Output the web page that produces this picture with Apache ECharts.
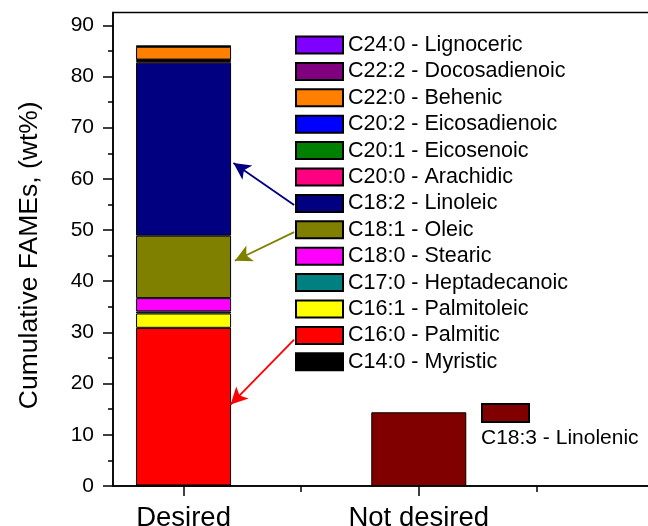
<!DOCTYPE html>
<html>
<head>
<meta charset="utf-8">
<script src="https://cdn.jsdelivr.net/npm/echarts@6/dist/echarts.min.js"></script>
<style>
html,body{margin:0;padding:0;background:#fff;}
#chart{width:648px;height:526px;}
</style>
</head>
<body>
<div id="chart"></div>
<script>
// ---- data ----
const categories = ['Desired', 'Not desired'];
const categoryPositions = [1, 2];
// stacked FAMEs (bottom to top) for the "Desired" bar
const fameNames = [
  'C14:0 - Myristic', 'C16:0 - Palmitic', 'C16:1 - Palmitoleic', 'C17:0 - Heptadecanoic',
  'C18:0 - Stearic', 'C18:1 - Oleic', 'C18:2 - Linoleic', 'C20:0 - Arachidic',
  'C20:1 - Eicosenoic', 'C20:2 - Eicosadienoic', 'C22:0 - Behenic', 'C22:2 - Docosadienoic',
  'C24:0 - Lignoceric'
];
const desiredValues = [0.1, 30.8, 2.8, 0.4, 2.6, 12.2, 33.8, 0.3, 0.2, 0.1, 2.5, 0.1, 0.1];
const notDesiredName = 'C18:3 - Linolenic';
const notDesiredValue = 14.4;
const yTicks = [0, 10, 20, 30, 40, 50, 60, 70, 80, 90];
const yMinorTicks = [5, 15, 25, 35, 45, 55, 65, 75, 85];
const xMinorTicks = [1.5, 2.5];
// annotation arrows (data space): [fameIndex, fromX, fromY, toX, toY]
const arrows = [
  [6, 1.470, 54.9, 1.212, 63.1],
  [5, 1.470, 49.6, 1.218, 44.0],
  [1, 1.470, 28.6, 1.200, 15.9]
];

// ---- styles ----
const palette = ['#000000', '#FF0000', '#FFFF00', '#008080', '#FF00FF', '#808000', '#000080',
  '#FF0080', '#008000', '#0000FF', '#FF8000', '#800080', '#8000FF'];
const notDesiredColor = '#800000';
const FONT = 'Liberation Sans, Arial, sans-serif';

// data rows are [value, position]; encode maps column 1 to x and column 0 to y,
// so the stack is computed on the value (y) dimension.
const series = fameNames.map((name, i) => {
  const s = {
    name: name,
    type: 'bar',
    stack: 'desired',
    barWidth: 95,
    barGap: '-100%',
    encode: { x: 1, y: 0 },
    data: [[desiredValues[i], categoryPositions[0]]],
    itemStyle: { color: palette[i], borderColor: '#000', borderWidth: 1 },
    emphasis: { disabled: true }
  };
  const arrs = arrows.filter(a => a[0] === i);
  if (arrs.length) {
    s.markLine = {
      silent: true,
      symbol: ['none', 'arrow'],
      symbolSize: [13, 17],
      label: { show: false },
      lineStyle: { color: palette[i], width: 1.8, type: 'solid' },
      data: arrs.map(a => [{ coord: [a[1], a[2]] }, { coord: [a[3], a[4]] }])
    };
  }
  return s;
});
series.push({
  name: notDesiredName,
  type: 'bar',
  stack: 'notdesired',
  barWidth: 95,
  barGap: '-100%',
  encode: { x: 1, y: 0 },
  data: [[notDesiredValue, categoryPositions[1]]],
  itemStyle: { color: notDesiredColor, borderColor: '#000', borderWidth: 1 },
  emphasis: { disabled: true }
});

const tickStyle = { color: '#000', width: 1.5 };
const chart = echarts.init(document.getElementById('chart'), null, { renderer: 'canvas' });
chart.setOption({
  animation: false,
  backgroundColor: '#fff',
  textStyle: { fontFamily: FONT },
  title: {
    text: notDesiredName,
    left: 481, top: 428, padding: 0,
    textStyle: { fontFamily: FONT, fontSize: 21, fontWeight: 'normal', color: '#000' }
  },
  grid: {
    left: 113, top: 12.5, right: -6, bottom: 40,
    outerBoundsMode: 'none', containLabel: false,
    show: true, borderColor: '#000', borderWidth: 1.5, backgroundColor: 'transparent'
  },
  legend: [{
    orient: 'vertical',
    left: 295, top: 34, padding: 0,
    itemWidth: 47, itemHeight: 17, itemGap: 4.4,
    icon: 'rect',
    selectedMode: false,
    data: fameNames.slice().reverse(),
    textStyle: { fontFamily: FONT, fontSize: 21.5, color: '#000' }
  }, {
    orient: 'vertical',
    left: 481, top: 403, padding: 0,
    itemWidth: 47, itemHeight: 18,
    icon: 'rect',
    selectedMode: false,
    data: [notDesiredName],
    formatter: () => '',
    textStyle: { fontSize: 1 }
  }],
  xAxis: [{
    type: 'value', min: 0.7, max: 3,
    splitLine: { show: false },
    axisLine: { show: true, lineStyle: { color: '#000', width: 1.5 } },
    axisTick: { show: false },
    axisLabel: {
      show: true, margin: 18, fontFamily: FONT, fontSize: 27.5, color: '#000',
      customValues: categoryPositions,
      formatter: v => { const k = categoryPositions.indexOf(v); return k >= 0 ? categories[k] : ''; }
    }
  }, {
    type: 'value', min: 0.7, max: 3, position: 'bottom',
    splitLine: { show: false },
    axisLine: { show: false },
    axisTick: { show: true, length: 6, lineStyle: tickStyle, customValues: xMinorTicks },
    axisLabel: { show: false }
  }, {
    type: 'value', min: 0.7, max: 3, position: 'bottom',
    splitLine: { show: false },
    axisLine: { show: false },
    axisTick: { show: true, length: 10, lineStyle: tickStyle, customValues: categoryPositions },
    axisLabel: { show: false }
  }],
  yAxis: [{
    type: 'value', min: 0, max: 92.5,
    splitLine: { show: false },
    axisLine: { show: true, lineStyle: { color: '#000', width: 1.5 } },
    axisTick: { show: true, length: 10, lineStyle: tickStyle, customValues: yTicks },
    axisLabel: { show: true, margin: 19, fontFamily: FONT, fontSize: 21, color: '#000', customValues: yTicks },
    name: 'Cumulative FAMEs, (wt%)',
    nameLocation: 'middle',
    nameGap: 70,
    nameTextStyle: { fontFamily: FONT, fontSize: 26.5, color: '#000', padding: [0, 12, 0, 0] }
  }, {
    type: 'value', min: 0, max: 92.5, position: 'left',
    splitLine: { show: false },
    axisLine: { show: false },
    axisTick: { show: true, length: 5, lineStyle: tickStyle, customValues: yMinorTicks },
    axisLabel: { show: false }
  }],
  series: series
});
</script>
</body>
</html>
